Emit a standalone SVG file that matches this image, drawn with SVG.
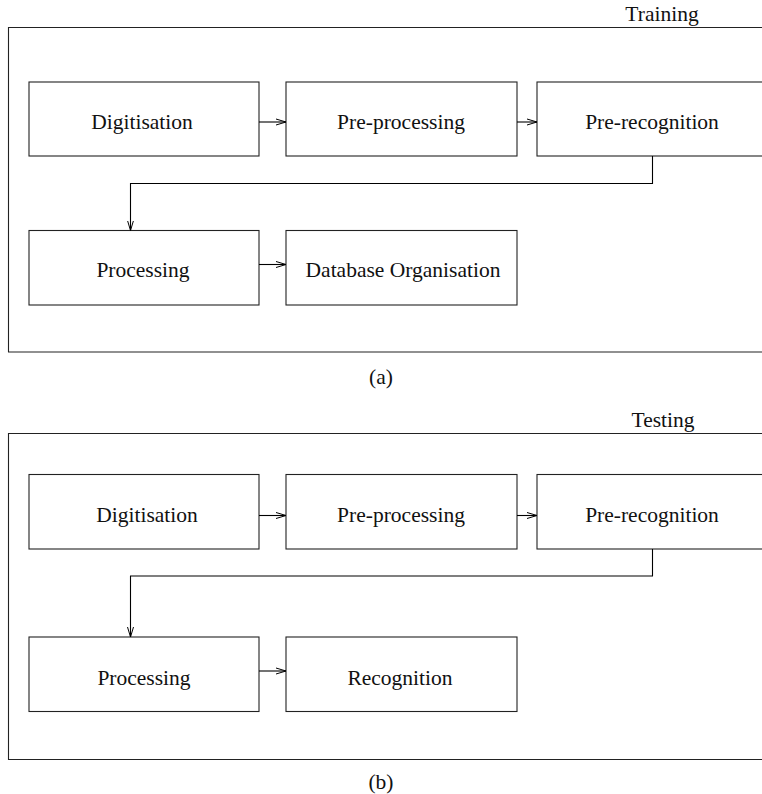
<svg xmlns="http://www.w3.org/2000/svg" width="762" height="794" viewBox="0 0 762 794">
<defs>
<marker id="arr" markerUnits="userSpaceOnUse" markerWidth="12" markerHeight="10" refX="10" refY="4" orient="auto" viewBox="0 0 12 10">
<path d="M0,1 L10,4 L0,7" fill="none" stroke="#000" stroke-width="1"/>
</marker>
</defs>
<style>
.box{fill:#fff;stroke:#222;stroke-width:1.1}
.frame{fill:none;stroke:#222;stroke-width:1.1}
.lbl{font-family:"Liberation Serif","Times New Roman",serif;font-size:21.5px;fill:#111;text-anchor:middle}
.cap{font-family:"Liberation Serif","Times New Roman",serif;font-size:21.5px;fill:#111;text-anchor:middle}
.con{fill:none;stroke:#000;stroke-width:1.1;marker-end:url(#arr)}
</style>
<rect width="762" height="794" fill="#fff"/>
<g id="panel-a-frame">
<path class="frame" d="M775,27.5 H8.5 V352 H775"/>
<text class="cap" x="662" y="21">Training</text>
<text class="cap" x="381" y="384">(a)</text>
</g>
<g id="a-digitisation"><rect class="box" x="29" y="82" width="230" height="74"/><text class="lbl" x="142" y="129">Digitisation</text></g>
<g id="a-preprocessing"><rect class="box" x="286" y="82" width="231" height="74"/><text class="lbl" x="401" y="129">Pre-processing</text></g>
<g id="a-prerecognition"><rect class="box" x="537" y="82" width="232" height="74"/><text class="lbl" x="652" y="129">Pre-recognition</text></g>
<g id="a-processing"><rect class="box" x="29" y="230.5" width="230" height="74.5"/><text class="lbl" x="143" y="277">Processing</text></g>
<g id="a-database"><rect class="box" x="286" y="230.5" width="231" height="74.5"/><text class="lbl" x="403" y="277">Database Organisation</text></g>

<g id="panel-b-frame">
<path class="frame" d="M775,433.5 H8.5 V759.5 H775"/>
<text class="cap" x="663" y="427">Testing</text>
<text class="cap" x="381" y="789">(b)</text>
</g>
<g id="b-digitisation"><rect class="box" x="29" y="474.5" width="230" height="74.5"/><text class="lbl" x="147" y="521.5">Digitisation</text></g>
<g id="b-preprocessing"><rect class="box" x="286" y="474.5" width="231" height="74.5"/><text class="lbl" x="401" y="521.5">Pre-processing</text></g>
<g id="b-prerecognition"><rect class="box" x="537" y="474.5" width="232" height="74.5"/><text class="lbl" x="652" y="521.5">Pre-recognition</text></g>
<g id="b-processing"><rect class="box" x="29" y="637" width="230" height="74.5"/><text class="lbl" x="144" y="685">Processing</text></g>
<g id="b-recognition"><rect class="box" x="286" y="637" width="231" height="74.5"/><text class="lbl" x="400" y="685">Recognition</text></g>

<g id="connectors">
<path class="con" d="M259,122 H286"/>
<path class="con" d="M517,122 H537"/>
<path class="con" d="M652.5,156 V183.5 H130.5 V230.5"/>
<path class="con" d="M259,264.5 H286"/>
<path class="con" d="M259,515.5 H286"/>
<path class="con" d="M517,515.5 H537"/>
<path class="con" d="M652.5,549 V576 H130.5 V637"/>
<path class="con" d="M259,671 H286"/>
</g>
</svg>
